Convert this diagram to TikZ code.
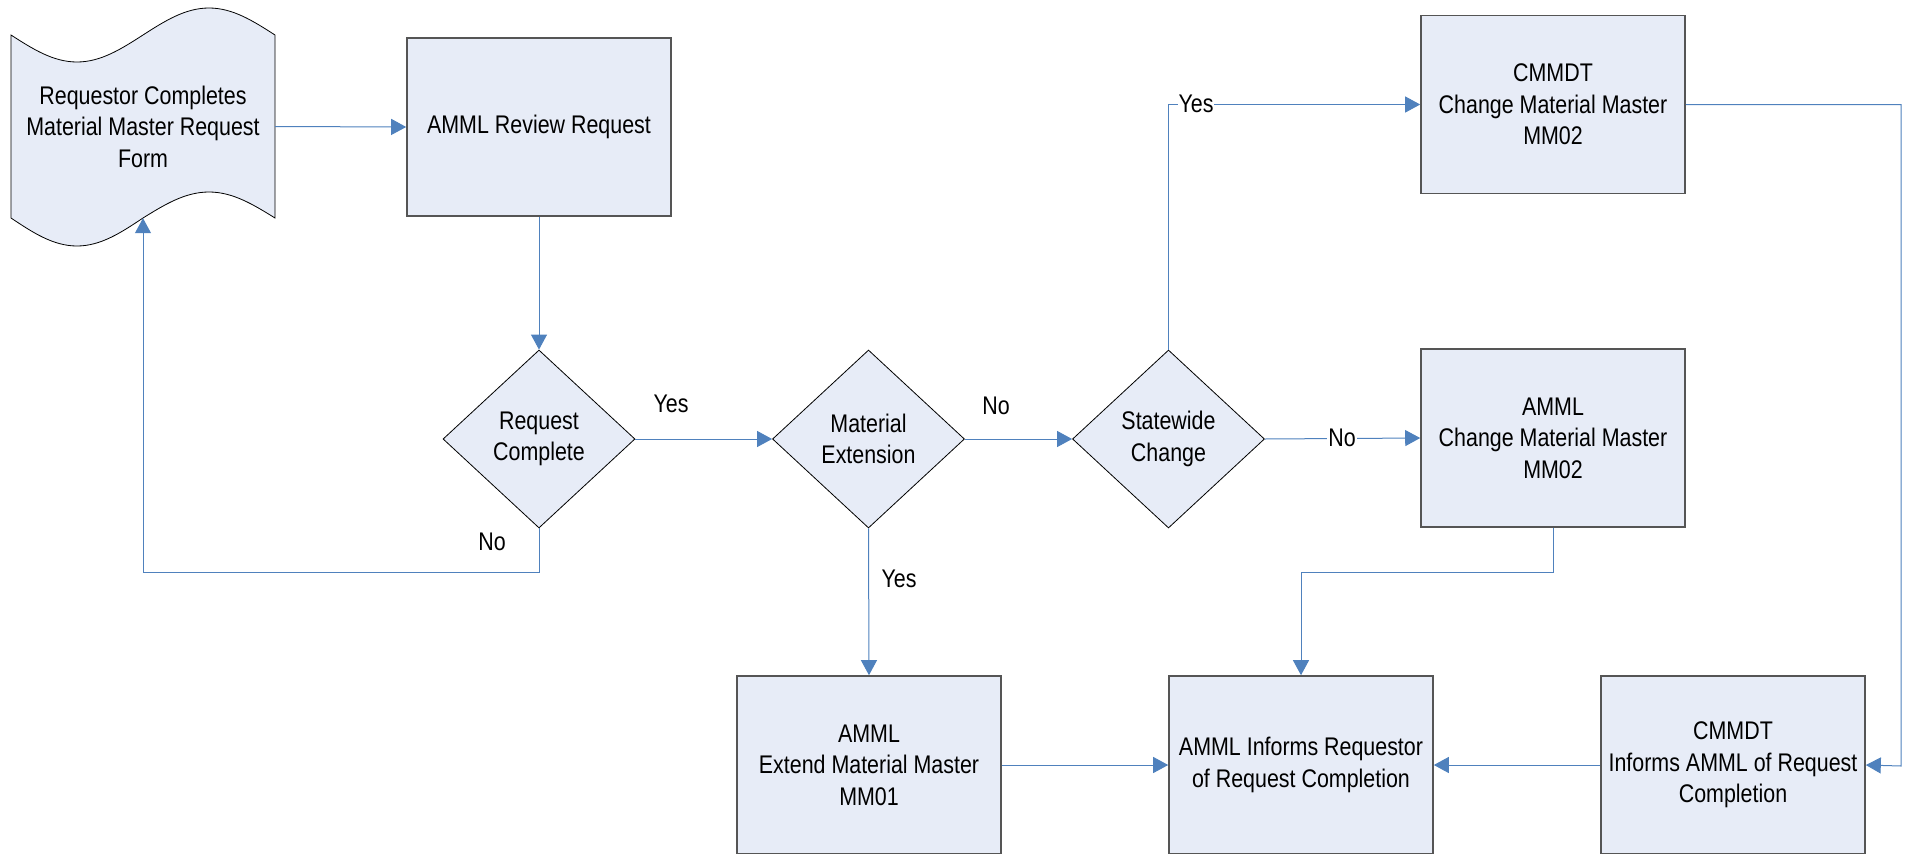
\documentclass[tikz,border=0pt]{standalone}
\usepackage{fontspec}
\setmainfont{Liberation Sans}[FakeStretch=0.84]
\usetikzlibrary{shapes.geometric,arrows.meta}

\definecolor{boxfill}{RGB}{231,236,247}
\definecolor{boxline}{RGB}{85,85,85}
\definecolor{flowblue}{RGB}{79,129,189}

\tikzstyle{process} = [rectangle,draw=boxline,line width=1.6pt,fill=boxfill,minimum width=264pt,minimum height=178pt,inner sep=0pt,align=center]
\tikzstyle{decision} = [diamond,draw=black,line width=0.8pt,fill=boxfill,minimum width=192pt,minimum height=178pt,inner sep=0pt,align=center]
\tikzstyle{flow} = [draw=flowblue,line width=1pt,-{Triangle[length=15pt,width=16pt]}]
\tikzstyle{answer} = [inner sep=1pt]

\begin{document}
\begin{tikzpicture}[x=1pt,y=-1pt,font=\fontsize{25.5}{31.5}\selectfont]
	\useasboundingbox (0,0) rectangle (1907,854);

	% request form (punched tape)
	\draw[draw=black,line width=0.8pt,fill=boxfill] (11,35) sin (77,62) cos (143,35) sin (209,8) cos (275,35)
		-- (275,218) sin (209,192) cos (143,218) sin (77,246) cos (11,218) -- cycle;
	\node[minimum width=264pt,minimum height=183pt,inner sep=0pt,align=center] (form) at (143,126.5) {Requestor Completes\\Material Master Request\\Form};

	\node[process] (review) at (539,127) {AMML Review Request};
	\node[decision] (complete) at (539,439) {Request\\Complete};
	\node[decision] (extension) at (868.5,439) {Material\\Extension};
	\node[decision] (statewide) at (1168.5,439) {Statewide\\Change};

	\node[process] (changecm) at (1553,104.5) {CMMDT\\Change Material Master\\MM02};
	\node[process] (change) at (1553,438) {AMML\\Change Material Master\\MM02};

	\node[process] (extend) at (869,765) {AMML\\Extend Material Master\\MM01};
	\node[process] (inform) at (1301,765) {AMML Informs Requestor\\of Request Completion};
	\node[process] (informcm) at (1733,765) {CMMDT\\Informs AMML of Request\\Completion};

	\coordinate (back) at (143,572);
	\coordinate (merge) at (1301,572);
	\coordinate (rim) at (1901,766);

	\draw[flow] (form.east) -- (review.west);
	\draw[flow] (review.south) -- (complete.north);
	\draw[flow] (complete.east) -- (extension.west);
	\draw[flow] (complete.south) |- (back) -- (form.south);
	\draw[flow] (extension.east) -- (statewide.west);
	\draw[flow] (extension.south) -- (extend.north);
	\draw[flow] (statewide.north) |- (changecm.west);
	\draw[flow] (statewide.east) -- (change.west);
	\draw[flow] (change.south) |- (merge) -- (inform.north);
	\draw[flow] (changecm.east) -| (rim) -- (informcm.east);
	\draw[flow] (extend.east) -- (inform.west);
	\draw[flow] (informcm.west) -- (inform.east);

	\node[answer] (yes1) at (671,404) {Yes};
	\node[answer] (no1) at (492,542) {No};
	\node[answer] (no2) at (996,406) {No};
	\node[answer] (yes2) at (899,579) {Yes};
	\node[answer,fill=white] (yes3) at (1196,104) {Yes};
	\node[answer,fill=white] (no3) at (1342,438) {No};
\end{tikzpicture}
\end{document}
